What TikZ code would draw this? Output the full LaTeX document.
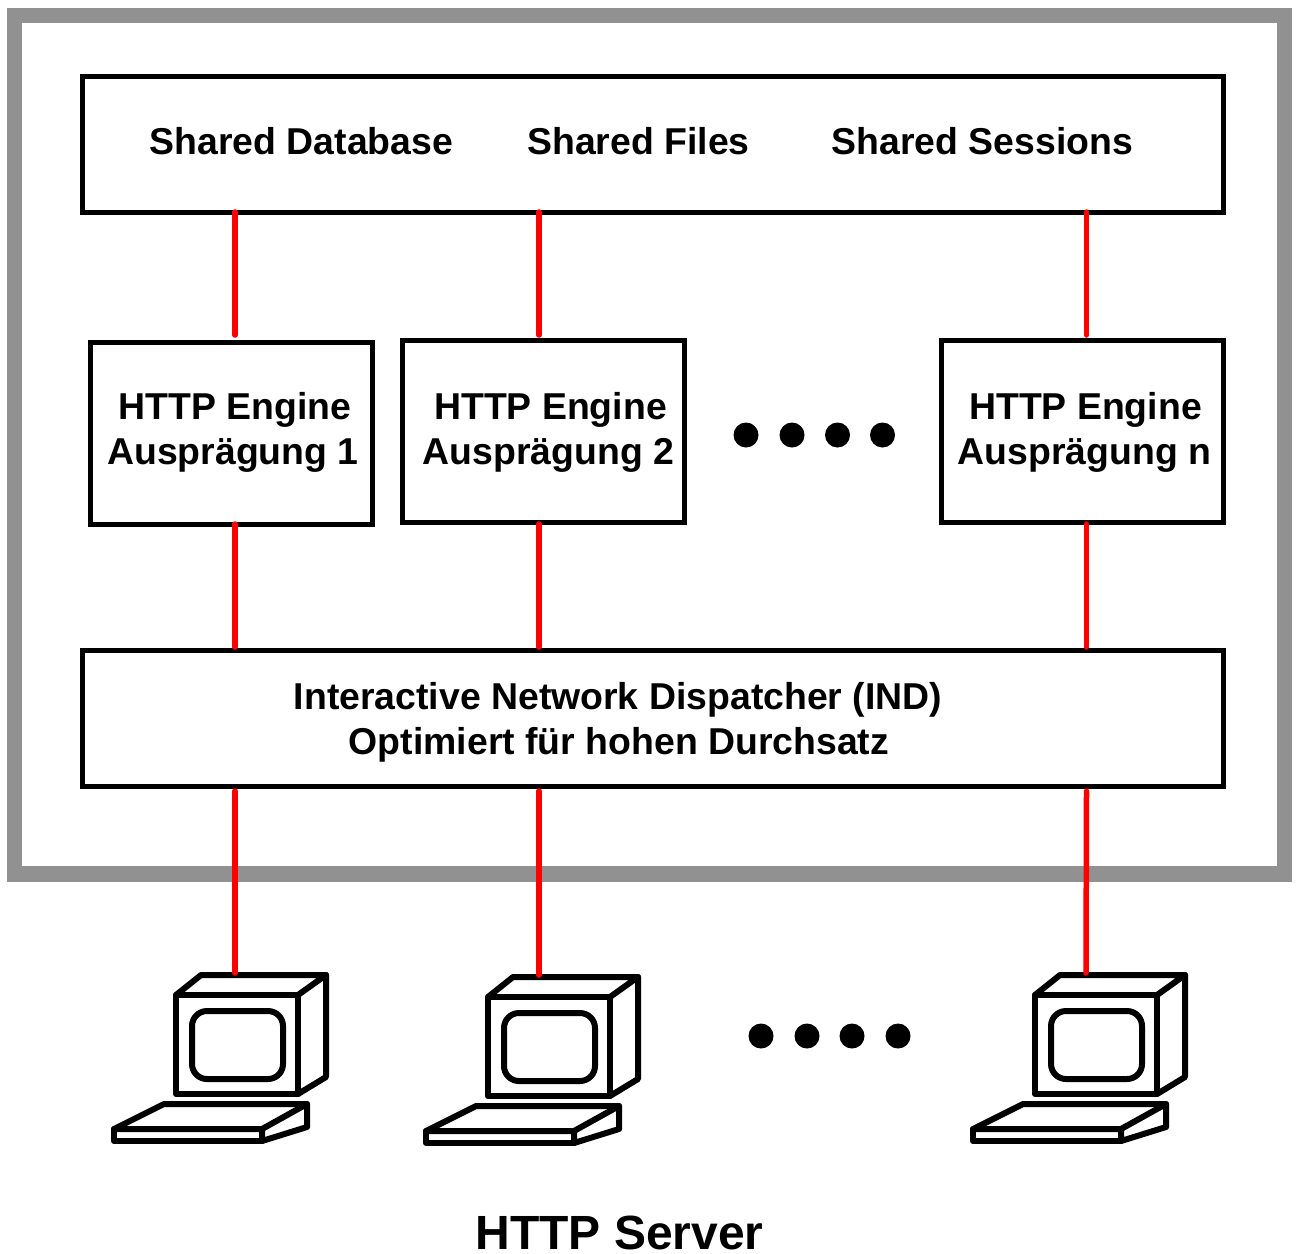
\documentclass[tikz,border=0pt]{standalone}
\usepackage{fontspec}
\setmainfont{Liberation Sans}
\tikzset{
  x=1pt,y=-1pt,
  lbl/.style={font=\fontsize{37.4}{45}\selectfont\bfseries,align=center,inner sep=0pt},
  box/.style={draw=black,line width=5pt,fill=white,rectangle,inner sep=0pt,minimum width=#1},
  wire/.style={draw=red,line width=5.5pt,line cap=round},
  dot/.style={circle,fill=black,inner sep=0pt,minimum size=25pt},
  pc/.style={draw=black,line width=6pt,line join=round,line cap=round},
}
\newcommand{\computer}[4]{%
\begin{scope}[shift={(#1,#2)}]
  \coordinate (#3) at (#4,-22);
  \draw[pc] (0,0) rectangle (122,99);
  \draw[pc] (0,0) -- (25,-20) -- (150,-20) -- (122,0);
  \draw[pc] (150,-20) -- (150,82) -- (122,99);
  \draw[pc,rounded corners=15pt] (16,16) rectangle (107,84);
  \draw[pc] (-12,109) -- (131,109) -- (131,132) -- (86,146) -- (86,134) -- (-62,134) -- cycle;
  \draw[pc] (131,109) -- (86,134);
  \draw[pc] (-62,134) -- (-62,146) -- (86,146);
\end{scope}}
\begin{document}
\begin{tikzpicture}
\useasboundingbox (0,0) rectangle (1297,1253);
\fill[white] (0,0) rectangle (1297,1253);
\draw[draw={rgb,255:red,145;green,145;blue,145},line width=15.5pt] (14.5,15.5) rectangle (1284.5,874);

\node[box=1141pt,minimum height=136pt,anchor=north west] (shared) at (80,74) {};
\node[lbl] (db) at (301.5,141) {Shared Database};
\node[lbl] (files) at (638.5,141) {Shared Files};
\node[lbl] (sess) at (982.5,141) {Shared Sessions};

\node[box=282pt,minimum height=182pt,anchor=north west] (e1) at (87.5,340) {};
\node[box=282pt,minimum height=182pt,anchor=north west] (e2) at (399.5,338) {};
\node[box=282pt,minimum height=182pt,anchor=north west] (en) at (939,338) {};
\node[lbl] (t1a) at (233,432) {\hspace*{4pt}HTTP Engine\\Ausprägung 1};
\node[lbl] (t2a) at (548.5,432) {\hspace*{4pt}HTTP Engine\\Ausprägung 2};
\node[lbl] (tna) at (1084.5,432) {\hspace*{2pt}HTTP Engine\\Ausprägung n};

\node[dot] (a1) at (746,435) {};
\node[dot] (a2) at (792,435) {};
\node[dot] (a3) at (837.5,435) {};
\node[dot] (a4) at (882.5,435) {};

\node[box=1141pt,minimum height=136pt,anchor=north west] (ind) at (80,648) {};
\node[lbl] (indt) at (618,722.5) {Interactive Network Dispatcher (IND)\\\hspace*{2pt}Optimiert für hohen Durchsatz};

\computer{176}{995}{c1}{59}
\computer{488}{997}{c2}{51}
\computer{1035}{995}{cn}{51}

\node[dot] (b1) at (761,1036) {};
\node[dot] (b2) at (807,1036) {};
\node[dot] (b3) at (852,1036) {};
\node[dot] (b4) at (898,1036) {};

\node[lbl,font=\fontsize{48}{55}\selectfont\bfseries] (title) at (619.5,1232.5) {HTTP Server};

\coordinate (s1) at (235,212); \coordinate (s2) at (539,212); \coordinate (s3) at (1086.5,212);
\coordinate (t1) at (235,335); \coordinate (t2) at (539,335); \coordinate (t3) at (1086.5,335);
\coordinate (u1) at (235,524); \coordinate (u2) at (539,524); \coordinate (u3) at (1086.5,524);
\coordinate (v1) at (235,647); \coordinate (v2) at (539,647); \coordinate (v3) at (1086.5,647);
\coordinate (w1) at (235,791); \coordinate (w2) at (539,791); \coordinate (w3) at (1086.5,791);
\draw[wire] (s1) -- (t1); \draw[wire] (s2) -- (t2); \draw[wire] (s3) -- (t3);
\draw[wire] (u1) -- (v1); \draw[wire] (u2) -- (v2); \draw[wire] (u3) -- (v3);
\draw[wire] (w1) -- (c1); \draw[wire] (w2) -- (c2); \draw[wire] (w3) -- (cn);
\end{tikzpicture}
\end{document}
